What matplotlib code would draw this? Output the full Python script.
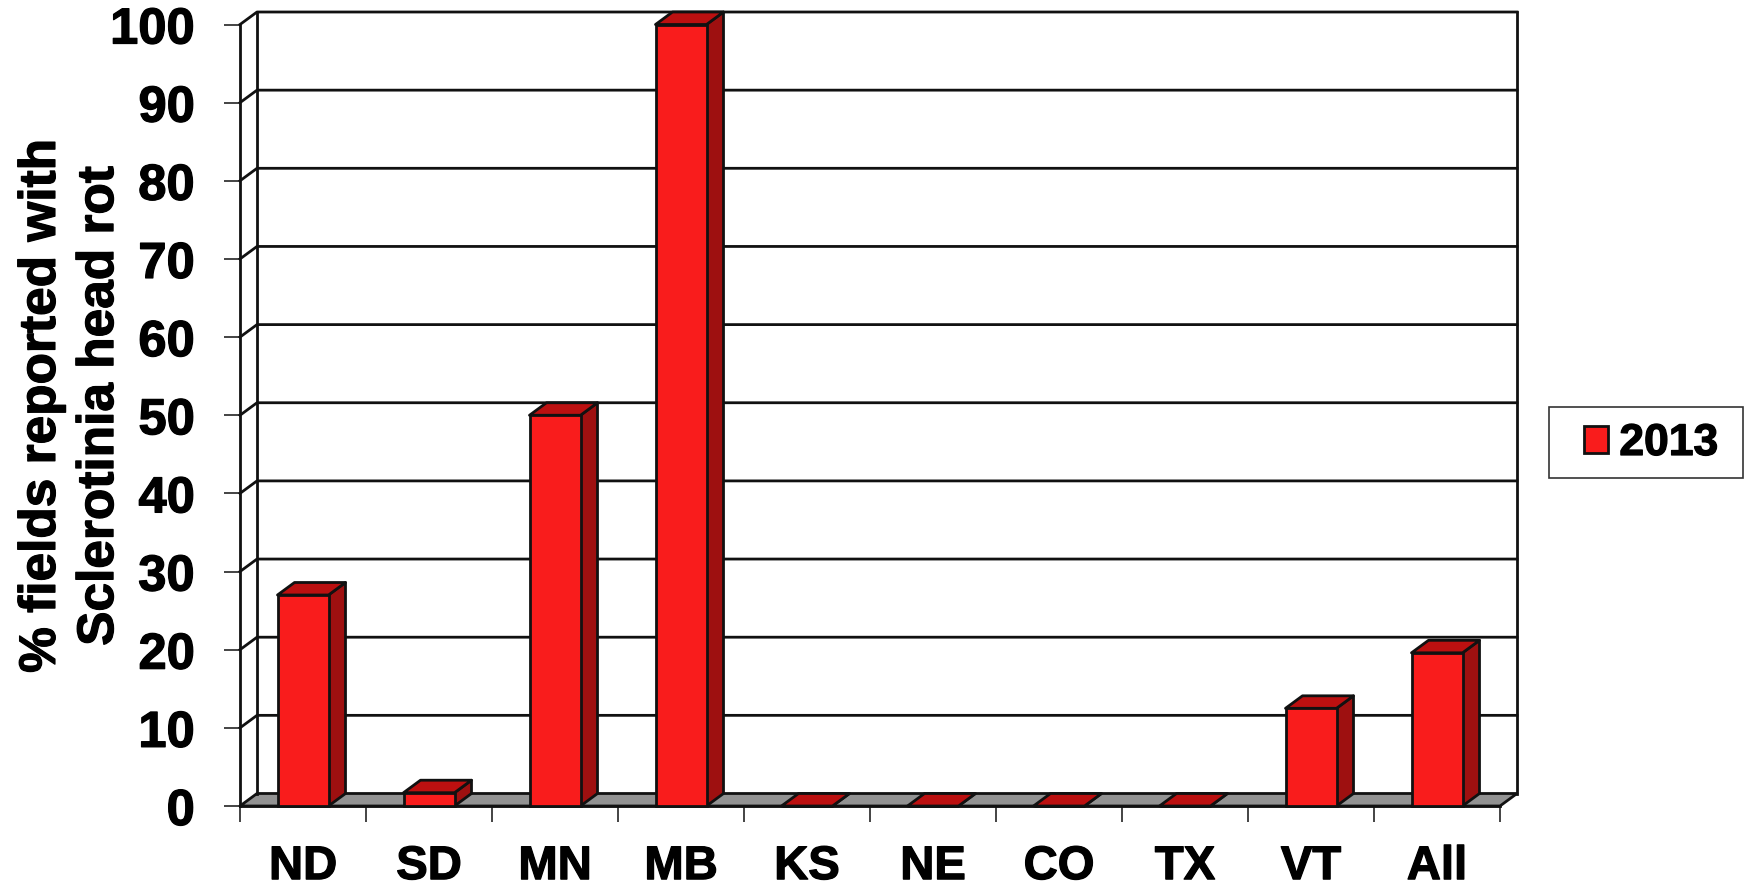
#!/usr/bin/env python3
"""Sclerotinia head rot survey: 3D-look column chart drawn on a flat axes."""

import matplotlib
import matplotlib.patheffects as pe
import matplotlib.pyplot as plt
from matplotlib.patches import Patch, Polygon, Rectangle

matplotlib.use("Agg")

plt.rcParams["font.family"] = ["Liberation Sans", "DejaVu Sans"]
plt.rcParams["font.weight"] = "bold"

categories = ["ND", "SD", "MN", "MB", "KS", "NE", "CO", "TX", "VT", "All"]
values_2013 = [27, 1.7, 50, 100, 0, 0, 0, 0, 12.5, 19.6]
y_ticks = list(range(0, 101, 10))
series_name = "2013"
y_label = "% fields reported with\nSclerotinia head rot"

W, H = 1744, 890
LEFT, RIGHT, BOTTOM, TOP = 240, 1500, 806, 24.5

# Depth of the fake 3D box, in data units
DX = 17 / 126
DY = 12.5 / 7.815
BAR_W = 51 / 126

FRONT = "#F91C1C"
SIDE = "#9E1010"
ROOF = "#BC1010"
FLOOR = "#929292"
INK = "#111111"
LW = 2.0

# Thin outline: the original font is heavier than Liberation Bold
HEAVY = [pe.withStroke(linewidth=0.9, foreground="black")]


def poly(ax, pts, color, z):
    ax.add_patch(
        Polygon(pts, closed=True, facecolor=color, edgecolor=INK,
                linewidth=LW, zorder=z, clip_on=False, joinstyle="round")
    )


fig = plt.figure(figsize=(W / 100, H / 100), dpi=100, facecolor="white")
ax = fig.add_axes([LEFT / W, 1 - BOTTOM / H, (RIGHT - LEFT) / W, (BOTTOM - TOP) / H])
ax.set_xlim(0, len(categories))
ax.set_ylim(0, 100)
for spine in ax.spines.values():
    spine.set_visible(False)
ax.patch.set_visible(False)

# Floor and walls
n = len(categories)
poly(ax, [(0, 0), (n, 0), (n + DX, DY), (DX, DY)], FLOOR, 1)
for t in y_ticks[1:]:
    ax.plot([0, DX, n + DX], [t, t + DY, t + DY], color=INK, lw=2.0,
            zorder=1, clip_on=False, solid_joinstyle="round")
ax.plot([DX, DX], [DY, 100 + DY], color=INK, lw=LW, zorder=1, clip_on=False)
ax.plot([n + DX, n + DX], [DY, 100 + DY], color=INK, lw=LW, zorder=1, clip_on=False)
ax.plot([0, 0], [0, 100], color=INK, lw=LW, zorder=2, clip_on=False)
ax.plot([0, n], [0, 0], color=INK, lw=LW, zorder=2, clip_on=False)

# Columns, drawn left to right so the side faces stack properly
for i, v in enumerate(values_2013):
    x0 = i + 0.5 - BAR_W / 2
    x1 = x0 + BAR_W
    poly(ax, [(x1, 0), (x1 + DX, DY), (x1 + DX, v + DY), (x1, v)], SIDE, 3)
    poly(ax, [(x0, v), (x1, v), (x1 + DX, v + DY), (x0 + DX, v + DY)], ROOF, 3)
    ax.bar(i + 0.5, v, width=BAR_W, color=FRONT, edgecolor=INK, linewidth=LW,
           zorder=4, clip_on=False)

# Ticks and labels
ax.set_yticks(y_ticks)
ax.set_xticks(range(n + 1))
ax.set_xticklabels([])
ax.tick_params(axis="both", length=11.5, width=1.1, color=INK)
ax.tick_params(axis="y", pad=21, labelsize=36.5)
for lab in ax.get_yticklabels():
    lab.set_path_effects(HEAVY)
for i, name in enumerate(categories):
    ax.annotate(name, (i + 0.5, 0), xytext=(0, -44), textcoords="offset points",
                ha="center", va="center", fontsize=34, fontweight="bold",
                path_effects=HEAVY)

fig.text(70.5 / W, 1 - 406 / H, y_label, rotation=90, ha="center", va="center",
         fontsize=37, fontweight="bold", linespacing=1.24, multialignment="center",
         path_effects=HEAVY)

# Legend: frame drawn separately so its box can be sized exactly
fig.add_artist(
    Rectangle((1549 / W, 1 - 478 / H), 194 / W, 71 / H, transform=fig.transFigure,
              facecolor="white", edgecolor="#333333", linewidth=1.2)
)
leg = fig.legend(
    handles=[Patch(facecolor=FRONT, edgecolor=INK, linewidth=LW, label=series_name)],
    loc="center",
    bbox_to_anchor=(1651 / W, 1 - 443.5 / H),
    prop={"weight": "bold", "size": 32},
    frameon=False,
    handlelength=0.55,
    handleheight=0.55,
    handletextpad=0.25,
    borderpad=0,
    borderaxespad=0,
)
for txt in leg.get_texts():
    txt.set_path_effects(HEAVY)

fig.savefig("out.png", dpi=100)
